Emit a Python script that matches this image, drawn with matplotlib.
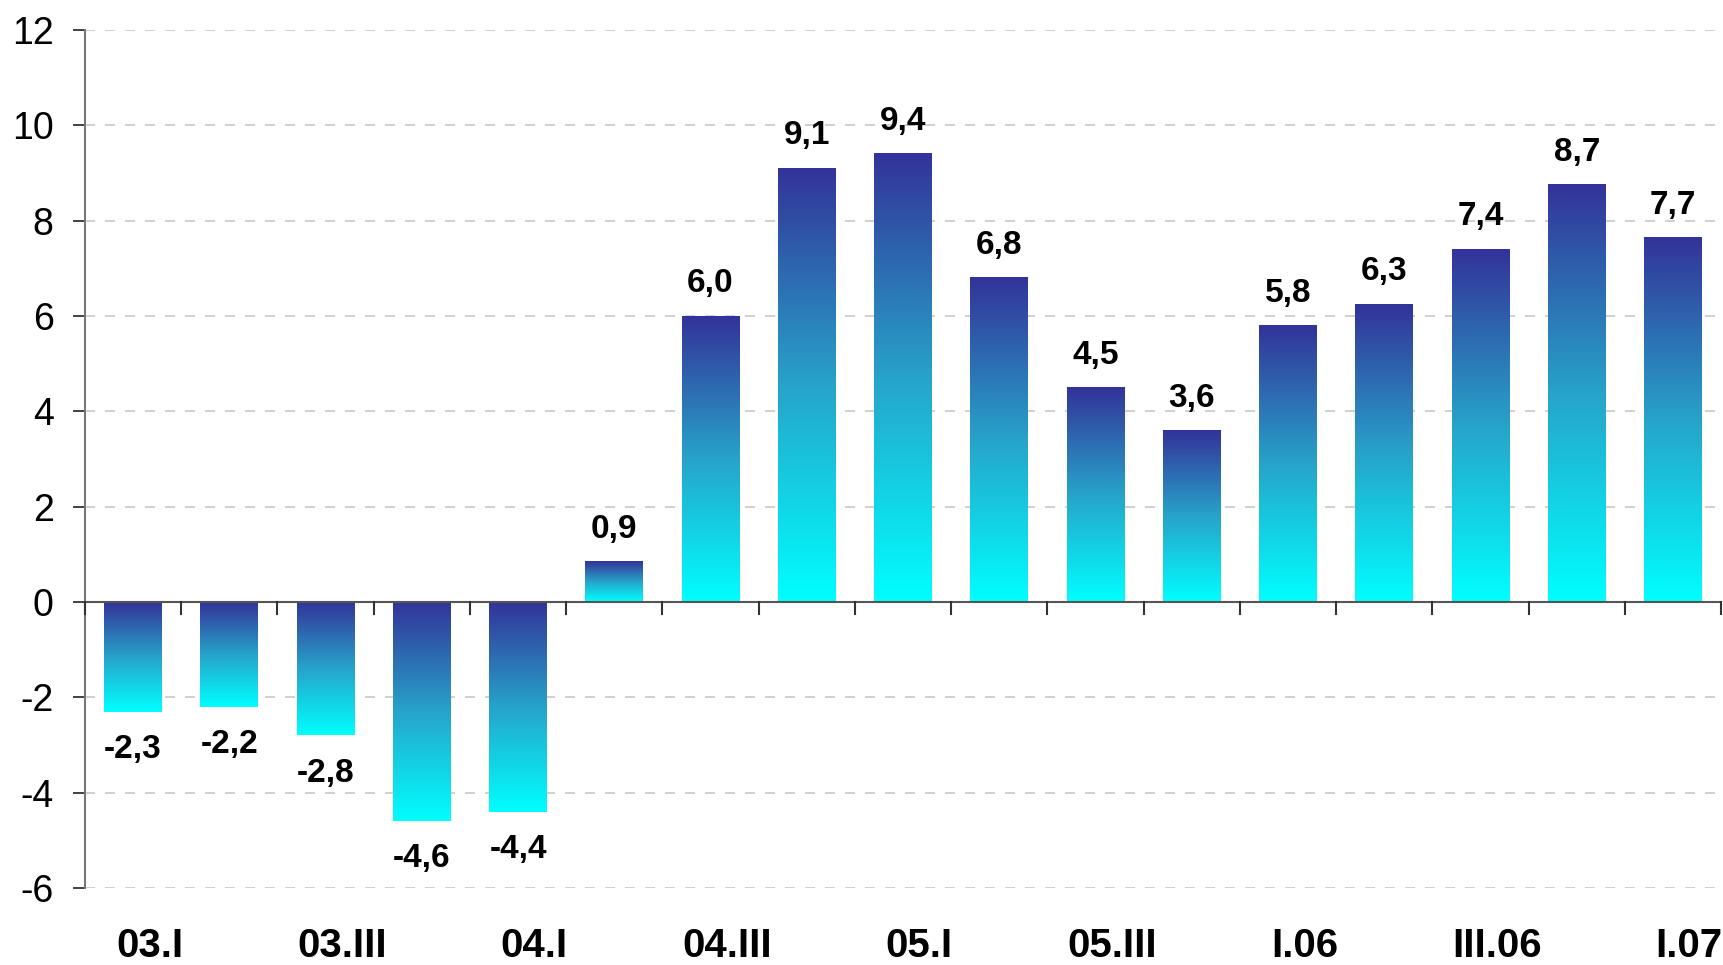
import numpy as np
import matplotlib
matplotlib.use("Agg")
import matplotlib.pyplot as plt
from matplotlib.colors import LinearSegmentedColormap

categories = ["03.I", "03.II", "03.III", "03.IV", "04.I", "04.II", "04.III", "04.IV",
              "05.I", "05.II", "05.III", "05.IV", "I.06", "II.06", "III.06", "IV.06", "I.07"]
values = [-2.3, -2.2, -2.8, -4.6, -4.4, 0.85, 6.0, 9.1, 9.4, 6.8, 4.5, 3.6, 5.8, 6.25, 7.4, 8.75, 7.65]
value_labels = ["-2,3", "-2,2", "-2,8", "-4,6", "-4,4", "0,9", "6,0", "9,1", "9,4", "6,8",
                "4,5", "3,6", "5,8", "6,3", "7,4", "8,7", "7,7"]
shown_ticks = ["03.I", "03.III", "04.I", "04.III", "05.I", "05.III", "I.06", "III.06", "I.07"]
yticks = [-6, -4, -2, 0, 2, 4, 6, 8, 10, 12]

plt.rcParams['font.family'] = ['Liberation Sans', 'DejaVu Sans']

fig = plt.figure(figsize=(17.24, 9.65), dpi=100)
ax = fig.add_axes([0.0493, 0.0798, 0.9490, 0.8891])

cmap = LinearSegmentedColormap.from_list("grad", [(0.0, "#00ffff"), (0.5, "#27a3c9"), (1.0, "#333399")])
grad = np.linspace(0, 1, 256).reshape(-1, 1)

x = np.arange(len(values))
width = 0.6
bars = ax.bar(x, values, width=width, color="none", edgecolor="none", zorder=3)
for b, v in zip(bars, values):
    x0 = b.get_x()
    y0, y1 = (0, v) if v >= 0 else (v, 0)
    ax.imshow(grad, extent=[x0, x0 + width, y0, y1], origin="lower", cmap=cmap,
              aspect="auto", zorder=3, interpolation="bilinear")

for xi, v, lab in zip(x, values, value_labels):
    if v >= 0:
        ax.text(xi, v + 0.5, lab, ha="center", va="baseline", fontsize=24, fontweight="bold")
    else:
        ax.text(xi, v - 0.97, lab, ha="center", va="baseline", fontsize=24, fontweight="bold")

ax.set_xlim(-0.5, len(values) - 0.5)
ax.set_ylim(-6, 12)
ax.set_yticks(yticks)
ax.set_yticklabels([str(t) for t in yticks], fontsize=27)
ax.yaxis.grid(True, linestyle=(0, (6, 6)), color="#c8c8c8", linewidth=1.2, zorder=0)
ax.tick_params(axis="y", length=8.6, width=1.2, color="#222222", pad=14)

for s in ["top", "right", "bottom"]:
    ax.spines[s].set_visible(False)
ax.spines["left"].set_color("#777777")
ax.spines["left"].set_linewidth(1.5)
ax.axhline(0, color="#555555", linewidth=1.5, zorder=4)

# boundary tick marks on zero line
ax.set_xticks([])
for b in np.arange(-0.5, len(values), 1.0):
    ax.plot([b, b], [0, -0.25], color="#333333", linewidth=1.5, zorder=4, clip_on=False)

# category labels (every other)
idx = [categories.index(c) for c in shown_ticks]
for i in idx:
    ax.text(x[i] + 0.17, -7.22, categories[i], ha="center", va="center", fontsize=29, fontweight="bold")

fig.savefig("out.png", dpi=100)
